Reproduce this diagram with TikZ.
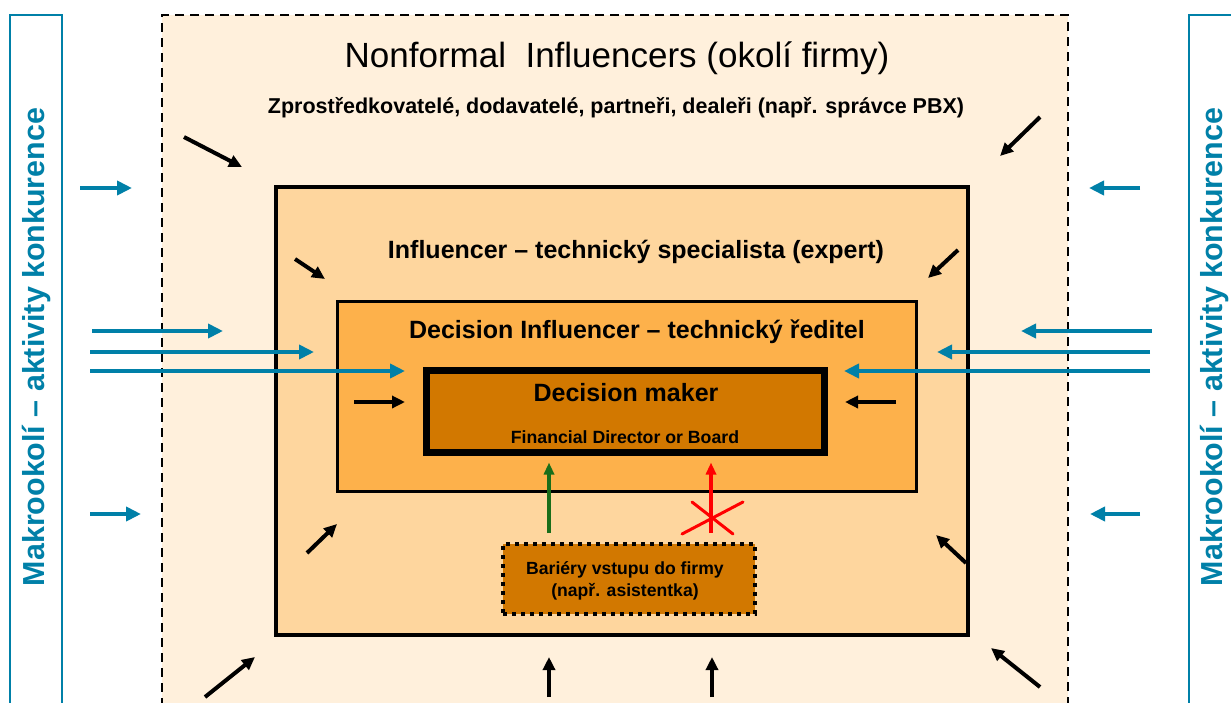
\documentclass[tikz,border=0pt]{standalone}
\usepackage{fontspec}
\setmainfont{Liberation Sans}
\usetikzlibrary{arrows.meta}

\definecolor{cream}{HTML}{FFF0DC}
\definecolor{lightorange}{HTML}{FED69E}
\definecolor{midorange}{HTML}{FDB14B}
\definecolor{darkorange}{HTML}{D27800}
\definecolor{macroblue}{HTML}{0080A8}
\definecolor{passgreen}{HTML}{1A6E1A}
\definecolor{blockred}{HTML}{FF0000}

\newcommand{\fsz}[1]{\fontsize{#1}{#1}\selectfont}

\tikzset{
  layer/.style={anchor=north west, inner sep=0pt, outer sep=0pt},
  macrobar/.style={layer, draw=macroblue, line width=2pt, fill=white},
  macrolabel/.style={rotate=90, text=macroblue, font=\fsz{30.4}\bfseries},
  influx/.style={draw=macroblue, line width=4pt,
    -{Triangle[length=15pt,width=14pt]}},
  push/.style={draw=black, line width=4pt,
    -{Triangle[length=13pt,width=12pt]}},
  pass/.style={draw=passgreen, line width=3.5pt,
    -{Triangle[length=12pt,width=10pt]}},
  block/.style={draw=blockred, line width=3.5pt,
    -{Triangle[length=12pt,width=10pt]}},
  cross/.style={draw=blockred, line width=3pt, line cap=round},
}

\begin{document}
\begin{tikzpicture}[x=1pt,y=-1pt]
\useasboundingbox (0,0) rectangle (1231,702);
\clip (0,0) rectangle (1231,702);
\fill[white] (0,0) rectangle (1231,702);

% macro-environment side bars
\node[macrobar, minimum width=52pt, minimum height=760pt] (leftbar) at (10,15) {};
\node[macrobar, minimum width=52pt, minimum height=760pt] (rightbar) at (1189,15) {};
\node[macrolabel] (leftlabel) at (37,347) {Makrookolí – aktivity konkurence};
\node[macrolabel] (rightlabel) at (1214,347) {Makrookolí – aktivity konkurence};

% nested circles of influence
\node[layer, draw=black, line width=2pt, dash pattern=on 9pt off 6pt, fill=cream,
  minimum width=906pt, minimum height=760pt] (nonformal) at (162,15) {};
\node[layer, draw=black, line width=4pt, fill=lightorange,
  minimum width=692pt, minimum height=448pt] (expert) at (276,187) {};
\node[layer, draw=black, line width=3pt, fill=midorange,
  minimum width=579pt, minimum height=190pt] (director) at (337.5,301.5) {};
\node[layer, draw=black, line width=7pt, fill=darkorange,
  minimum width=398pt, minimum height=82pt] (maker) at (426.5,370.5) {};
\node[layer, draw=black, line width=4pt, dash pattern=on 4pt off 5pt, fill=darkorange,
  minimum width=252pt, minimum height=70pt] (barrier) at (503,544) {};

% titles
\node (nftitle) at (617,58) {\fsz{35}Nonformal\ \ Influencers (okolí firmy)};
\node (nfsub) at (616,108) {\fsz{21.5}\bfseries Zprostředkovatelé, dodavatelé, partneři, dealeři (např. správce PBX)};
\node (extitle) at (636,252) {\fsz{25}\bfseries Influencer – technický specialista (expert)};
\node (ditle) at (637,332) {\fsz{25}\bfseries Decision Influencer – technický ředitel};
\node (mktitle) at (626,393) {\fsz{25}\bfseries Decision maker};
\node (mksub) at (625,437) {\fsz{17.7}\bfseries Financial Director or Board};
\node[align=center, font=\fsz{17.6}\bfseries] (bartext) at (625,581)
  {Bariéry vstupu do firmy\\[4pt](např. asistentka)};

% competition pressure from the left
\draw[influx] (80,188) -- (132,188);
\draw[influx] (92,331) -- (223,331);
\draw[influx] (90,352) -- (314,352);
\draw[influx] (90,371) -- (405,371);
\draw[influx] (90,514) -- (141,514);
% competition pressure from the right
\draw[influx] (1140,188) -- (1089,188);
\draw[influx] (1152,331) -- (1021,331);
\draw[influx] (1150,352) -- (937,352);
\draw[influx] (1150,371) -- (844,371);
\draw[influx] (1140,514) -- (1090,514);

% inward influence arrows
\draw[push] (184,137) -- (242,167);
\draw[push] (1040,117) -- (1000,156);
\draw[push] (295,259) -- (325,279);
\draw[push] (958,250) -- (928,278);
\draw[push] (307,553) -- (337,524);
\draw[push] (966,563) -- (936,535);
\draw[push] (354,402) -- (405,402);
\draw[push] (896,402) -- (845,402);
\draw[push] (205,697) -- (255,657);
\draw[push] (1040,687) -- (991,648);
\draw[push] (549,697) -- (549,657);
\draw[push] (712,697) -- (712,657);

% paths through the gatekeeper
\coordinate (passfoot) at (549,533);
\coordinate (blockfoot) at (711,533);
\draw[pass, shorten >=10pt] (passfoot) -- (passfoot |- maker.south);
\draw[block, shorten >=10pt] (blockfoot) -- (blockfoot |- maker.south);
\draw[cross] (682,534) -- (743,502);
\draw[cross] (692,502) -- (733,534);
\end{tikzpicture}
\end{document}
